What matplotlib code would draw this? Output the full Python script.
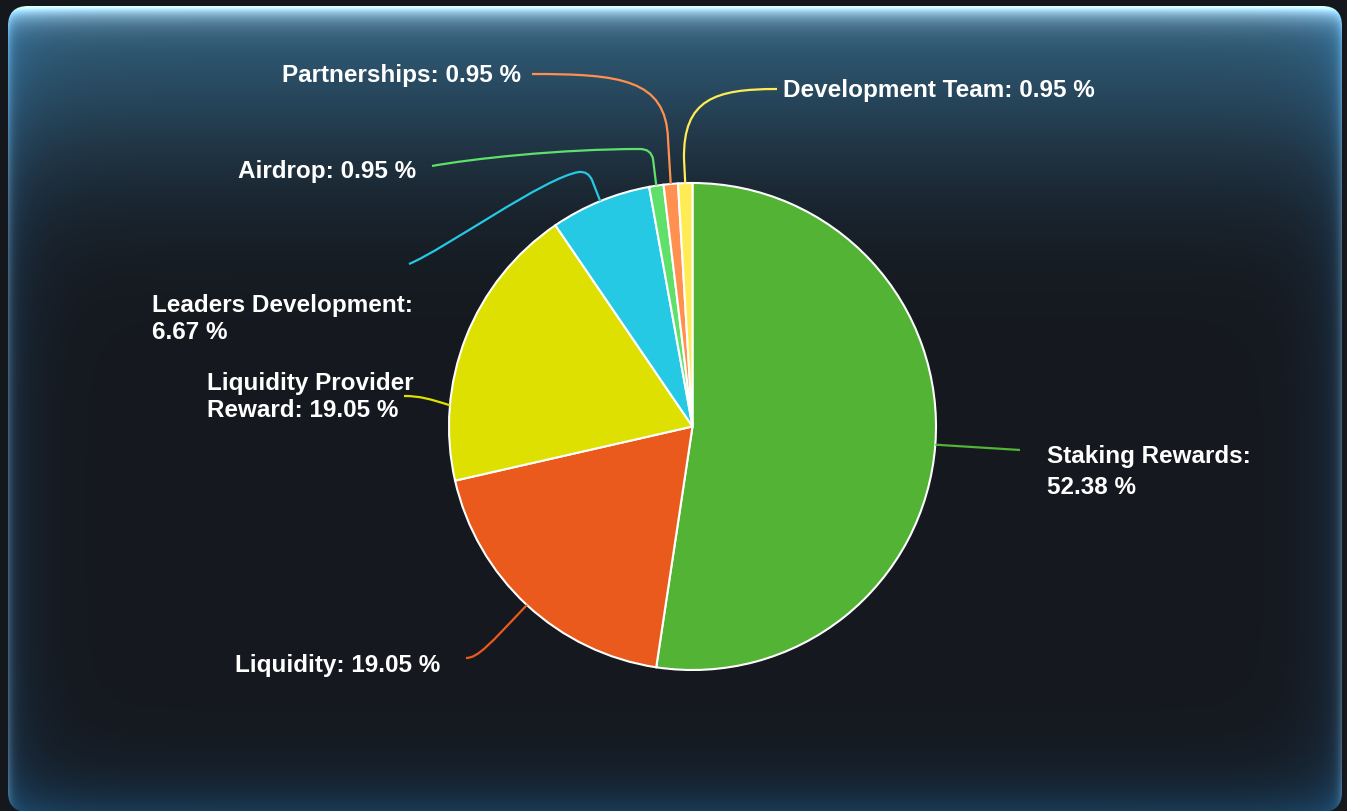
import numpy as np
import matplotlib
matplotlib.use("Agg")
import matplotlib.pyplot as plt
from matplotlib.patches import FancyBboxPatch, PathPatch
from matplotlib.path import Path

# ----------------------------
# Data
# ----------------------------
categories = [
    "Staking Rewards",
    "Liquidity",
    "Liquidity Provider\nReward",
    "Leaders Development",
    "Airdrop",
    "Partnerships",
    "Development Team",
]
shares = [52.38, 19.05, 19.05, 6.67, 0.95, 0.95, 0.95]
colors = ["#52b335", "#ea5a1c", "#dde000", "#26c9e4", "#5fe06a", "#ff9050", "#ffec55"]

W, H = 1347, 812

# ----------------------------
# Layout (pixel coords, y from top)
# ----------------------------
pie_cx, pie_cy, pie_r = 692.5, 427.5, 243.5

label_text = [
    "Staking Rewards:\n52.38 %",
    "Liquidity: 19.05 %",
    "Liquidity Provider\nReward: 19.05 %",
    "Leaders Development:\n6.67 %",
    "Airdrop: 0.95 %",
    "Partnerships: 0.95 %",
    "Development Team: 0.95 %",
]
# (x, first baseline, ha, line pitch)
label_pos = [
    (1047, 463, "left", 31),
    (440, 672, "right", 27),
    (207, 390, "left", 27),
    (152, 312, "left", 27),
    (416, 178, "right", 27),
    (521, 82, "right", 27),
    (783, 97, "left", 27),
]
touch_angle = {2: 175}  # connector touches slice off its mid angle

connectors = [
    [(Path.LINETO, [(1020, 451)])],
    [(Path.CURVE4, [(490, 645), (478, 659), (466, 659)])],
    [(Path.CURVE4, [(430, 400), (420, 397), (404, 397)])],
    [(Path.LINETO, [(592, 181)]),
     (Path.CURVE3, [(588, 172), (579, 173)]),
     (Path.CURVE4, [(545, 178), (445, 250), (409, 265)])],
    [(Path.LINETO, [(653, 160)]),
     (Path.CURVE3, [(651, 150), (640, 150)]),
     (Path.CURVE4, [(560, 150), (470, 160), (432, 167)])],
    [(Path.LINETO, [(668, 140)]),
     (Path.CURVE4, [(666, 80), (620, 75), (532, 75)])],
    [(Path.LINETO, [(684, 160)]),
     (Path.CURVE4, [(683, 100), (715, 90), (777, 90)])],
]


def fy(y):
    return H - y


# ----------------------------
# Background card with glow
# ----------------------------
fig = plt.figure(figsize=(W / 100, H / 100), dpi=100)
fig.patch.set_facecolor("#14171c")
ax = fig.add_axes([0, 0, 1, 1])
ax.set_xlim(0, W)
ax.set_ylim(0, H)
ax.axis("off")

yy, xx = np.mgrid[0:H, 0:W] + 0.5
base = np.array([0x15, 0x18, 0x1e]) / 255


def hexc(h):
    return np.array([int(h[i:i + 2], 16) for i in (1, 3, 5)]) / 255


img = np.ones((H, W, 3)) * base
d_top = np.clip(yy - 7, 0, None)
d_side = np.clip(np.minimum(xx - 8, 1342 - xx), 0, None)
d_bot = np.clip(813 - yy, 0, None)
glows = [
    (np.exp(-(d_top / 160) ** 2), hexc("#2e5873")),
    (np.exp(-d_top / 11), hexc("#cfdbe4")),
    (0.5 * np.exp(-d_side / 4), hexc("#6a8aa2")),
    (0.45 * np.exp(-d_side / 28), hexc("#1e4466")),
    (0.8 * np.exp(-d_bot / 30), hexc("#1a4566")),
]
for w, c in glows:
    img = img + w[..., None] * (c - base)
img = np.clip(img, 0, 1)

card = FancyBboxPatch((8, fy(813)), 1334, 806, boxstyle="round,pad=0,rounding_size=20",
                      facecolor="none", edgecolor="none")
ax.add_patch(card)
im = ax.imshow(img, extent=(0, W, 0, H), origin="upper", zorder=0)
im.set_clip_path(card)

# ----------------------------
# Pie
# ----------------------------
wedges, _ = ax.pie(
    shares,
    colors=colors,
    startangle=90,
    counterclock=False,
    center=(pie_cx, fy(pie_cy)),
    radius=pie_r,
    wedgeprops=dict(edgecolor="white", linewidth=1.5),
    frame=True,
)
ax.set_xlim(0, W)
ax.set_ylim(0, H)
ax.set_aspect("auto")
ax.axis("off")

for i, wdg in enumerate(wedges):
    ang = touch_angle.get(i, (wdg.theta1 + wdg.theta2) / 2)
    sx = pie_cx + pie_r * np.cos(np.radians(ang))
    sy = pie_cy - pie_r * np.sin(np.radians(ang))
    verts = [(sx, fy(sy))]
    codes = [Path.MOVETO]
    for code, pts in connectors[i]:
        for p in pts:
            verts.append((p[0], fy(p[1])))
            codes.append(code)
    ax.add_patch(PathPatch(Path(verts, codes), facecolor="none",
                           edgecolor=colors[i], linewidth=1.6, zorder=3))

    x, y0, ha, pitch = label_pos[i]
    for k, line in enumerate(label_text[i].split("\n")):
        ax.text(x, fy(y0 + k * pitch), line, ha=ha, va="baseline", color="white",
                fontsize=17.5, fontweight="bold", family="Liberation Sans", zorder=4)

fig.savefig("out.png", dpi=100, facecolor=fig.get_facecolor())
